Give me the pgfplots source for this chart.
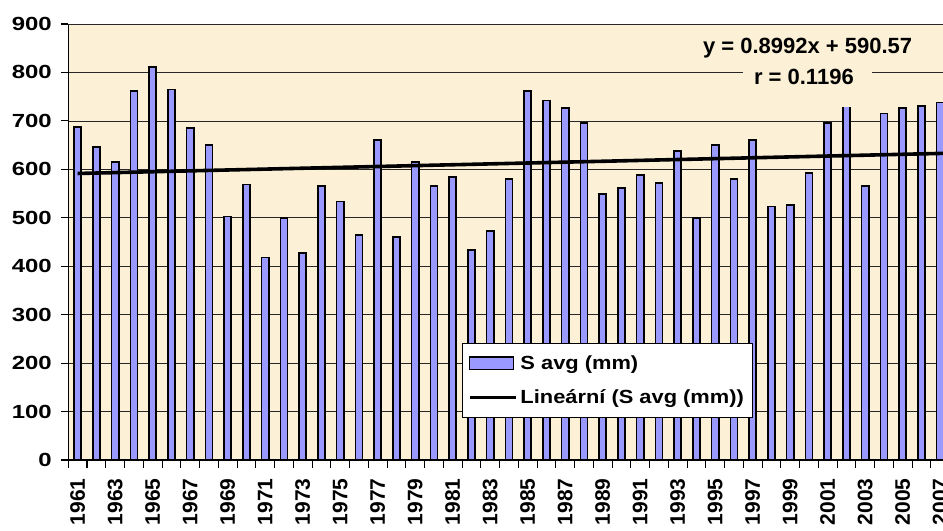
\documentclass[border=0pt]{standalone}
\usepackage{pgfplots}
\pgfplotsset{compat=1.18}
\usepackage{pgfplotstable}
\usepackage{fontspec}
\setmainfont{Liberation Sans}
\newfontfamily\wideA[FakeStretch=1.26]{Liberation Sans}
\newfontfamily\wideB[FakeStretch=1.15]{Liberation Sans}
\definecolor{bg}{RGB}{252,240,214}
\definecolor{barc}{RGB}{153,153,255}

\pgfplotstableread{
x y
0 688
1 646
2 615
3 762
4 811
5 765
6 685
7 650
8 503
9 569
10 418
11 500
12 427
13 565
14 534
15 464
16 661
17 460
18 615
19 565
20 584
21 434
22 473
23 580
24 762
25 742
26 727
27 696
28 549
29 561
30 588
31 572
32 638
33 500
34 650
35 580
36 661
37 523
38 526
39 592
40 696
41 755
42 565
43 715
44 727
45 731
46 738
}\data

\begin{document}
\begin{tikzpicture}
\begin{axis}[
  name=ax,
  scale only axis, width=874.7bp, height=436bp,
  xmin=-0.5, xmax=46.15, ymin=0, ymax=900,
  axis x line*=bottom, axis y line*=left,
  axis line style={black, line width=1.1bp},
  axis background/.style={fill=bg},
  ytick={0,100,...,800},
  extra y ticks={900},
  extra y tick style={grid style={gray, line width=1.6bp}},
  ymajorgrids, major grid style={black!85, line width=0.7bp},
  tick align=outside,
  major tick length=0pt, minor tick length=7.5bp,
  minor xtick={-0.5,0.5,...,46.5},
  minor ytick={0,100,...,900},
  every tick/.style={black, line width=1.1bp},
  xtick={0,2,...,46},
  xticklabels={1961,1963,1965,1967,1969,1971,1973,1975,1977,1979,1981,1983,1985,1987,1989,1991,1993,1995,1997,1999,2001,2003,2005,2007},
  xticklabel style={yshift=-15bp, rotate=90, anchor=east, font=\bfseries\fontsize{21bp}{21bp}\selectfont},
  yticklabel style={xshift=-13bp, font=\wideA\bfseries\fontsize{19bp}{19bp}\selectfont},
  /pgf/number format/assume math mode=true,
  legend style={at={(axis cs:20.48,240.9)}, anchor=north west, draw=black, line width=0.8bp, fill=white,
    font=\wideB\bfseries\fontsize{19bp}{19bp}\selectfont, inner xsep=6bp, inner ysep=9bp,
    nodes={inner sep=3bp}, row sep=13bp},
  legend cell align=left,
]
\addplot[ybar, bar width=0.38, fill=barc, draw=black, line width=1.6bp,
  legend image code/.code={\draw[fill=barc, draw=black, line width=1.2bp] (0bp,-6.3bp) rectangle (44bp,6.3bp);}]
  table[x=x,y=y]{\data};
\addlegendentry{S avg (mm)}
\addplot[black, line width=3.6bp, sharp plot,
  legend image code/.code={\draw[black, line width=3.4bp] (0bp,0bp) -- (46bp,0bp);}]
  coordinates {(0,591.47) (46.15,632.97)};
\addlegendentry{Lineární (S avg (mm))}
\fill[bg] (axis cs:35.48,728) rectangle (axis cs:42.36,817);
\node[font=\bfseries\fontsize{22bp}{22bp}\selectfont] at (axis cs:38.93,851) {y = 0.8992x + 590.57};
\node[font=\bfseries\fontsize{22bp}{22bp}\selectfont] at (axis cs:38.73,791) {r = 0.1196};
\end{axis}
\pgfresetboundingbox
\path (ax.south west) ++(-68.3bp,-71bp) rectangle ++(943bp,531bp);
\end{tikzpicture}
\end{document}
